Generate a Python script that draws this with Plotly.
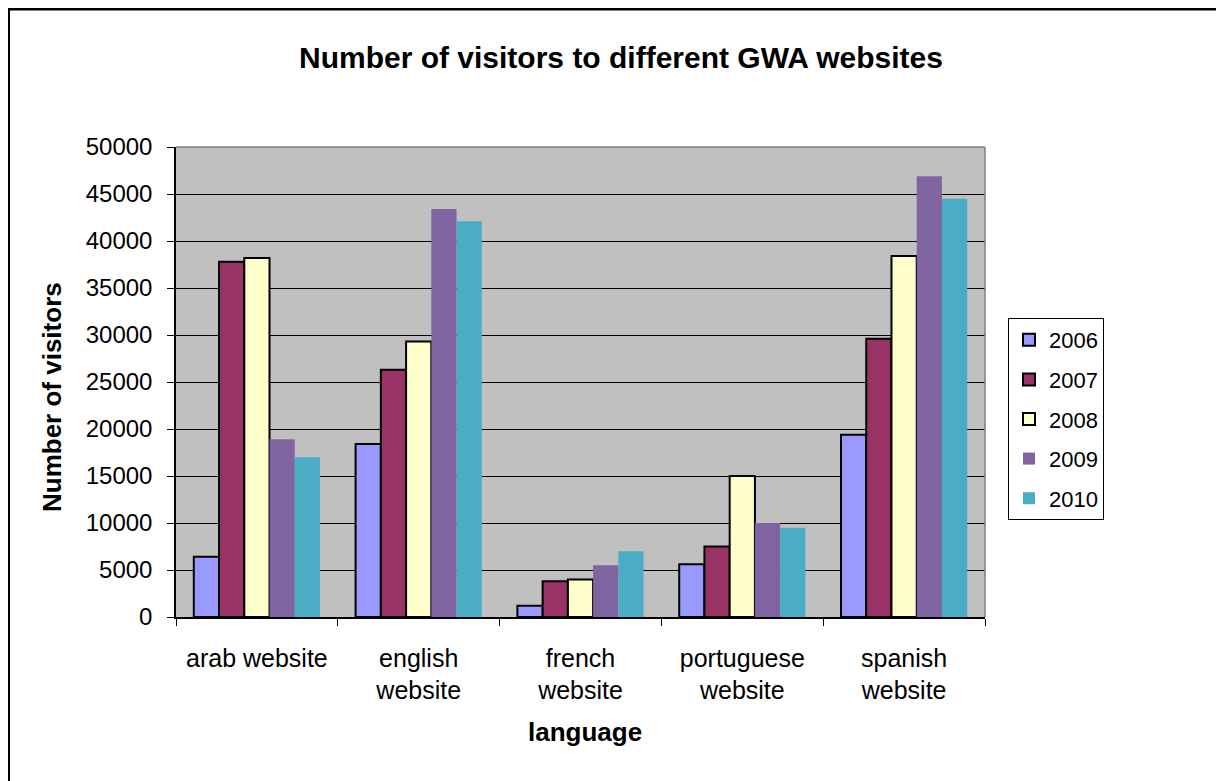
import plotly.graph_objects as go

# Data
categories = ["arab website", "english<br>website", "french<br>website",
              "portuguese<br>website", "spanish<br>website"]
years = ["2006", "2007", "2008", "2009", "2010"]

visitors_2006 = [6400, 18400, 1200, 5600, 19400]
visitors_2007 = [37800, 26300, 3800, 7500, 29600]
visitors_2008 = [38200, 29300, 4000, 15000, 38400]
visitors_2009 = [18900, 43400, 5500, 10000, 46900]
visitors_2010 = [17000, 42100, 7000, 9500, 44500]

series = [visitors_2006, visitors_2007, visitors_2008, visitors_2009, visitors_2010]
colors = ['#9999FF', '#993366', '#FFFFCC', '#8064A2', '#4BACC6']
outlined = [True, True, True, False, False]

FONT = "Arial, Liberation Sans, sans-serif"

# page body has an 8px margin, so work in screen pixels and shift
OFF = 8
W, H = 1224 - OFF, 781 - OFF
# plot area on screen
L, R, T, B = 176 - OFF, 985 - OFF, 147 - OFF, 617 - OFF


def px_x(x):
    """screen x -> paper x"""
    return (x - OFF - L) / (R - L)


def px_y(y):
    """screen y -> paper y"""
    return (B - (y - OFF)) / (B - T)


fig = go.Figure()

for year, vals, color, edge in zip(years, series, colors, outlined):
    fig.add_trace(go.Bar(
        x=categories,
        y=vals,
        name=year,
        legendgroup=year,
        marker={
            'color': color,
            'line': {'color': 'black', 'width': 2 if edge else 0},
        },
    ))

annotations = [
    {
        'text': "<b>language</b>",
        'x': px_x(585), 'y': px_y(732),
        'xref': 'paper', 'yref': 'paper',
        'xanchor': 'center', 'yanchor': 'middle',
        'showarrow': False,
        'font': {'family': FONT, 'size': 26, 'color': 'black'},
    },
    {
        'text': "<b>Number of visitors</b>",
        'x': px_x(52), 'y': px_y(397),
        'xref': 'paper', 'yref': 'paper',
        'xanchor': 'center', 'yanchor': 'middle',
        'textangle': -90,
        'showarrow': False,
        'font': {'family': FONT, 'size': 26, 'color': 'black'},
    },
]

shapes = [
    # gray top/right border of plot area
    {'type': 'line', 'xref': 'paper', 'yref': 'paper',
     'x0': 0, 'x1': 1, 'y0': 1, 'y1': 1,
     'line': {'color': '#808080', 'width': 1.5}},
    {'type': 'line', 'xref': 'paper', 'yref': 'paper',
     'x0': 1, 'x1': 1, 'y0': 0, 'y1': 1,
     'line': {'color': '#808080', 'width': 1.5}},
    # outer chart frame (left, top, right edges)
    {'type': 'rect', 'xref': 'paper', 'yref': 'paper',
     'x0': px_x(OFF + 0.5), 'x1': px_x(1218), 'y0': px_y(800), 'y1': px_y(OFF + 1),
     'line': {'color': 'black', 'width': 3}},
]

fig.update_layout(
    title={
        'text': "<b>Number of visitors to different GWA websites</b>",
        'x': (621 - OFF) / W, 'xref': 'container', 'xanchor': 'center',
        'y': 1 - (57 - OFF) / H, 'yref': 'container', 'yanchor': 'middle',
        'font': {'family': FONT, 'size': 30, 'color': 'black'},
    },
    xaxis={
        'showline': True, 'linecolor': 'black', 'linewidth': 1.5,
        'ticks': 'outside', 'ticklen': 7, 'tickcolor': 'black',
        'tickson': 'boundaries',
        'ticklabelstandoff': 18,
        'tickfont': {'family': FONT, 'size': 25, 'color': 'black'},
        'showgrid': False,
    },
    yaxis={
        'range': [0, 50000],
        'dtick': 5000,
        'tickformat': 'd',
        'showline': True, 'linecolor': 'black', 'linewidth': 1.5,
        'ticks': 'outside', 'ticklen': 7, 'tickcolor': 'black',
        'ticklabelstandoff': 10,
        'tickfont': {'family': FONT, 'size': 24, 'color': 'black'},
        'showgrid': True, 'gridcolor': 'black', 'gridwidth': 1,
        'zeroline': False,
    },
    legend={
        'x': px_x(1008), 'y': px_y(318),
        'xanchor': 'left', 'yanchor': 'top',
        'traceorder': 'grouped',
        'tracegroupgap': 8,
        'itemwidth': 30,
        'bordercolor': 'black', 'borderwidth': 1,
        'bgcolor': 'white',
        'font': {'family': FONT, 'size': 22, 'color': 'black'},
    },
    barmode='group',
    bargap=0.22,
    bargroupgap=0,
    plot_bgcolor='#C0C0C0',
    paper_bgcolor='white',
    annotations=annotations,
    shapes=shapes,
    width=W,
    height=H,
    margin={'l': L, 'r': W - R, 't': T, 'b': H - B},
)

fig.write_html("out.html")
